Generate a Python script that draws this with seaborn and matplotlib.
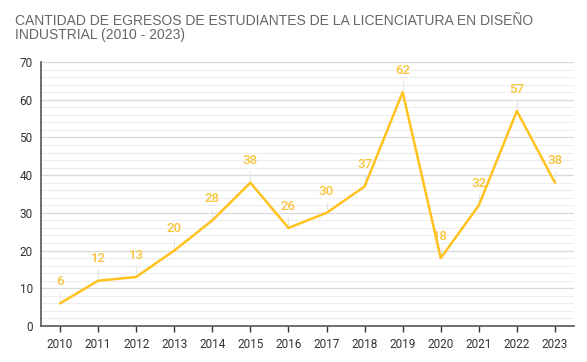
import numpy as np
import pandas as pd
import matplotlib
matplotlib.use("Agg")
import matplotlib.pyplot as plt
import seaborn as sns
from matplotlib.ticker import MultipleLocator

# chart data
years = ["2010", "2011", "2012", "2013", "2014", "2015", "2016",
         "2017", "2018", "2019", "2020", "2021", "2022", "2023"]
egresos = [6, 12, 13, 20, 28, 38, 26, 30, 37, 62, 18, 32, 57, 38]

title = "CANTIDAD DE EGRESOS DE ESTUDIANTES DE LA LICENCIATURA EN DISEÑO\nINDUSTRIAL (2010 - 2023)"

LINE = "#FFC21F"
LABEL = "#F8C43C"

sns.set_style("white")
plt.rcParams["font.family"] = ["Roboto", "DejaVu Sans"]

df = pd.DataFrame({"year": years, "n": egresos})
df["pos"] = np.arange(len(df))

fig = plt.figure(figsize=(5.87, 3.62), dpi=100)
ax = fig.add_axes([41 / 587, 1 - 326 / 362, (574 - 41) / 587, (326 - 62) / 362])

sns.lineplot(data=df, x="pos", y="n", color=LINE, linewidth=1.8, ax=ax)

# leader lines + value labels
ax.vlines(df["pos"], df["n"] + 0.5, df["n"] + 3.0, color="#e6e6e6", linewidth=0.8, zorder=1)
for p, v in zip(df["pos"], df["n"]):
    ax.annotate(str(v), (p, v), xytext=(0, 11), textcoords="offset points",
                ha="center", va="bottom", color=LABEL, fontsize=9.5, fontweight="medium")

ax.set_xlim(-0.5, len(years) - 0.5)
ax.set_ylim(0, 70)
ax.set_xticks(df["pos"])
ax.set_xticklabels(years)
ax.yaxis.set_major_locator(MultipleLocator(10))
ax.yaxis.set_minor_locator(MultipleLocator(2))
ax.grid(which="major", axis="y", color="#d9d9d9", linewidth=0.9)
ax.grid(which="minor", axis="y", color="#ededed", linewidth=0.8)
ax.set_axisbelow(True)
ax.set_xlabel("")
ax.set_ylabel("")

for s in ["top", "right"]:
    ax.spines[s].set_visible(False)
for s in ["left", "bottom"]:
    ax.spines[s].set_color("#555555")
    ax.spines[s].set_linewidth(1.2)

ax.tick_params(axis="x", which="major", direction="out", length=4, width=1,
               color="#333333", labelsize=8.5, labelcolor="#333333", pad=5, bottom=True)
ax.tick_params(axis="y", which="both", length=0, labelsize=8.5, labelcolor="#333333", pad=6)

fig.text(15 / 587, 1 - 14 / 362, title, ha="left", va="top", fontsize=10,
         color="#666666", family=["Liberation Sans", "DejaVu Sans"], linespacing=1.0)

fig.savefig("out.png", dpi=100)
